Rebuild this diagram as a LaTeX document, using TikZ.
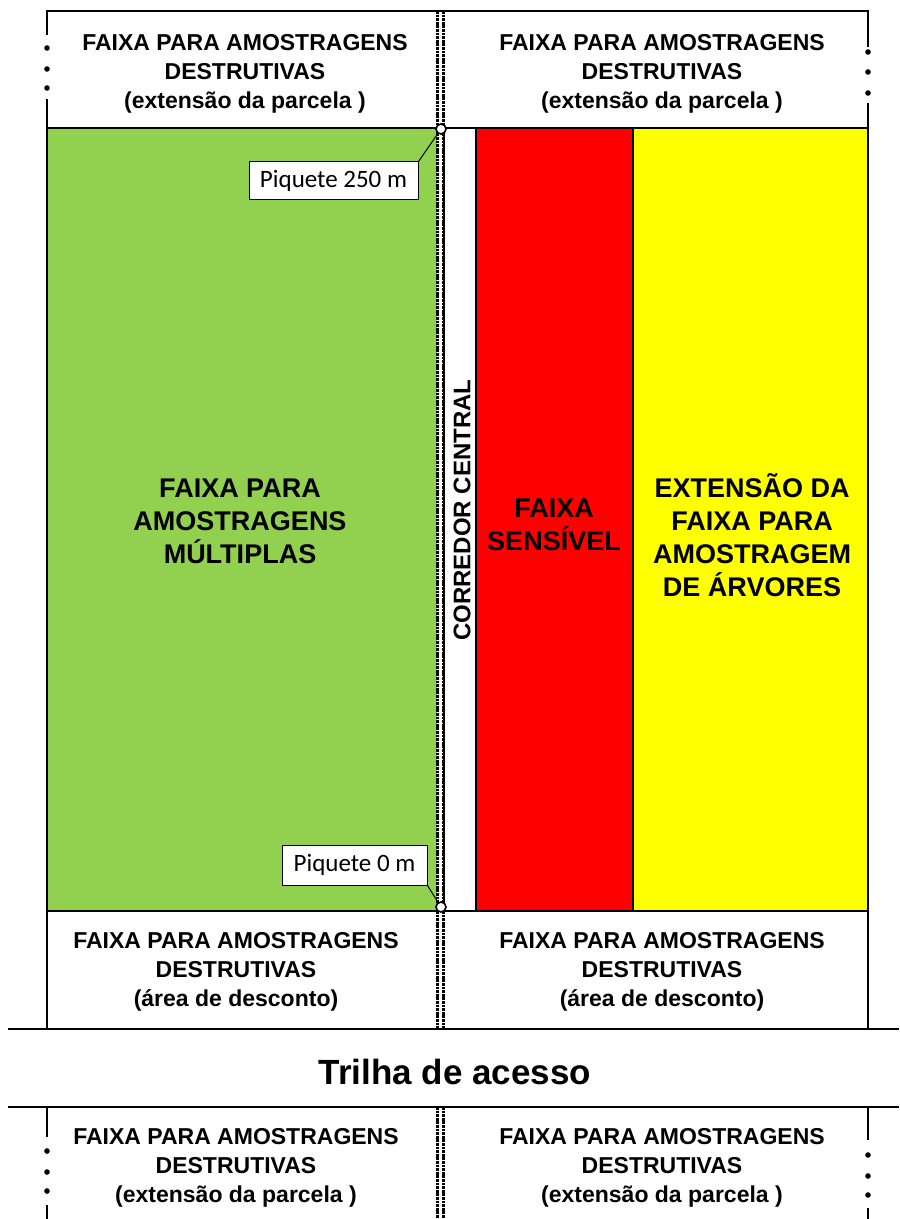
\documentclass[tikz,border=0pt]{standalone}
\usepackage{fontspec}
\setmainfont{Liberation Sans}
\newfontfamily\piqfont{Carlito}
\usetikzlibrary{positioning}

\definecolor{verde}{HTML}{92D050}
\definecolor{vermelho}{HTML}{FF0000}
\definecolor{amarelo}{HTML}{FFFF00}

\tikzset{
  band/.style={font=\fontsize{11.5}{14.5}\selectfont\bfseries, align=center},
  bigtxt/.style={font=\fontsize{13.5}{16.5}\selectfont\bfseries, align=center},
  piq/.style={draw, line width=0.5pt, fill=white, inner sep=0pt, font=\piqfont\fontsize{12.5}{14}\selectfont},
  marco/.style={line width=1pt},
  corr/.style={line width=1.2pt, dash pattern=on 1.4pt off 0.4pt},
  stake/.style={circle, draw, fill=white, line width=0.8pt, minimum size=5pt, inner sep=0pt}
}

\begin{document}
\begin{tikzpicture}[x=0.5pt, y=-0.5pt]
\useasboundingbox (0,0) rectangle (899,1219);

%//faixas coloridas
\fill[verde] (47,128) rectangle (437,911);
\draw[marco, fill=white] (444,128) rectangle (476,911);
\draw[marco, fill=vermelho] (476,128) rectangle (633,911);
\draw[marco, fill=amarelo] (633,128) rectangle (868,911);

%//contorno
\draw[marco] (47,35) -- (47,11) -- (868,11) -- (868,47);
\draw[marco] (47,99) -- (47,1029);
\draw[marco] (868,103) -- (868,1029);
\draw[marco] (47,128) -- (868,128);
\draw[marco] (47,911) -- (868,911);
\draw[marco] (8,1029) -- (899,1029);
\draw[marco] (8,1107) -- (899,1107);
\draw[marco] (47,1107) -- (47,1137);
\draw[marco] (47,1205) -- (47,1219);
\draw[marco] (868,1107) -- (868,1140);
\draw[marco] (868,1208) -- (868,1219);

%//pontos
\foreach \y in {48,69,88,1151,1172,1191}
  \fill (47,\y) circle (1.4pt);
\foreach \y in {52,72,93,1155,1176,1195}
  \fill (868,\y) circle (1.4pt);

%//corredor central
\foreach \x in {437.5,443.5} {
  \draw[corr] (\x,11) -- (\x,1029);
  \draw[corr] (\x,1107) -- (\x,1219);
}

%//textos das faixas
\node[band] (tl) at (245,74) {FAIXA PARA AMOSTRAGENS\\DESTRUTIVAS\\(extensão da parcela )};
\node[band] (tr) at (662,74) {FAIXA PARA AMOSTRAGENS\\DESTRUTIVAS\\(extensão da parcela )};
\node[band] (ml) at (236,972) {FAIXA PARA AMOSTRAGENS\\DESTRUTIVAS\\(área de desconto)};
\node[band] (mr) at (662,972) {FAIXA PARA AMOSTRAGENS\\DESTRUTIVAS\\(área de desconto)};
\node[band] (bl) at (236,1168) {FAIXA PARA AMOSTRAGENS\\DESTRUTIVAS\\(extensão da parcela )};
\node[band] (br) at (662,1168) {FAIXA PARA AMOSTRAGENS\\DESTRUTIVAS\\(extensão da parcela )};

\node[bigtxt] (multi) at (240,521) {FAIXA PARA\\AMOSTRAGENS\\MÚLTIPLAS};
\node[bigtxt] (sens) at (554,525) {FAIXA\\SENSÍVEL};
\node[bigtxt] (arv) at (752,535) {EXTENSÃO DA\\FAIXA PARA\\AMOSTRAGEM\\DE ÁRVORES};
\node[font=\fontsize{12}{14}\selectfont\bfseries, rotate=90] (cc) at (462,510) {CORREDOR CENTRAL};

\node[font=\fontsize{17.5}{20}\selectfont\bfseries] (trilha) at (455,1072) {Trilha de acesso};

%//piquetes
\node[stake] (s250) at (441,129) {};
\node[stake] (s0) at (441,907) {};
\node[piq, minimum width=84.5pt, minimum height=19pt] (p250) at (333.5,181) {Piquete 250 m};
\node[piq, minimum width=72.5pt, minimum height=20pt] (p0) at (354.5,865) {Piquete 0 m};
\draw[line width=0.5pt] (p250.north east) -- (s250);
\draw[line width=0.5pt] (p0.south east) -- (s0);
\end{tikzpicture}
\end{document}
